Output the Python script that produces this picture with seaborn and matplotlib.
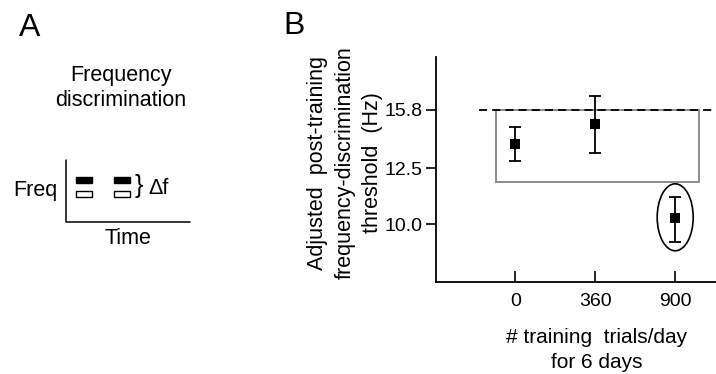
import numpy as np
import pandas as pd
import seaborn as sns
import matplotlib
matplotlib.use("Agg")
import matplotlib.pyplot as plt
import matplotlib.patches as mpatches
import matplotlib.transforms as mtransforms

# ---- data (panel B) ----
categories = ["0", "360", "900"]
means = [13.8, 14.9, 10.24]
err_low = [12.88, 13.29, 9.33]
err_high = [14.75, 16.67, 11.17]
ytick_values = [10.0, 12.5, 15.8]
ytick_labels = ["10.0", "12.5", "15.8"]
baseline_threshold = 15.8
box_low = 11.86

sns.set_theme(style="ticks")
plt.rcParams["font.family"] = ["Liberation Sans", "DejaVu Sans"]
plt.rcParams["text.color"] = "black"
plt.rcParams["axes.labelcolor"] = "black"

W, H, DPI = 716, 374, 100
fig = plt.figure(figsize=(W / DPI, H / DPI), dpi=DPI)

# ---- Panel A: schematic (overlay in pixel coords) ----
ov = fig.add_axes([0, 0, 1, 1], zorder=0)
ov.set_xlim(0, W)
ov.set_ylim(H, 0)
ov.axis("off")
ov.text(30, 28, "A", fontsize=23, ha="center", va="center")
ov.text(294, 26, "B", fontsize=23, ha="center", va="center")
ov.text(121, 88, "Frequency\ndiscrimination", fontsize=15.5, ha="center",
        va="center", linespacing=1.3)
ov.plot([66, 66, 190], [160, 222, 222], color="black", lw=1.1)
ov.text(35, 190, "Freq", fontsize=15.5, ha="center", va="center")
ov.text(128, 238, "Time", fontsize=15.5, ha="center", va="center")
for x0 in (76, 114):
    ov.add_patch(mpatches.Rectangle((x0, 177), 16, 6, facecolor="black",
                                    edgecolor="black", lw=1))
    ov.add_patch(mpatches.Rectangle((x0, 191), 16, 6, facecolor="white",
                                    edgecolor="black", lw=1))
ov.text(139, 186, "}", fontsize=18, ha="center", va="center")
ov.text(159, 188, "\u0394f", fontsize=15.5, ha="center", va="center")

# ---- Panel B ----
ax = fig.add_axes([436 / W, 1 - 282 / H, 1 - 436 / W, (282 - 57) / H], zorder=2)
ax.patch.set_alpha(0)
df = pd.DataFrame({"trials": categories, "threshold": means,
                   "low": err_low, "high": err_high})
xpos = np.arange(len(categories))
ax.set_yscale("log")

# gray box and dashed baseline
ax.add_patch(mpatches.Rectangle((-0.24, box_low), 2.54, baseline_threshold - box_low,
                                fill=False, edgecolor="#8c8c8c", lw=1.4, zorder=1))
ax.plot([-0.45, 2.51], [baseline_threshold, baseline_threshold], color="black",
        lw=1.3, dashes=(4.5, 2.8), clip_on=False, zorder=3)

yerr = np.vstack([df["threshold"] - df["low"], df["high"] - df["threshold"]])
ax.errorbar(xpos, df["threshold"], yerr=yerr, fmt="none", ecolor="black",
            elinewidth=1.3, capsize=4, capthick=1.3, zorder=4)
sns.scatterplot(x=xpos, y=df["threshold"], marker="s", color="black", s=60,
                edgecolor="black", linewidth=0, ax=ax, zorder=5, legend=False)

# ellipse around the 900 point (in pixel size)
trans = fig.dpi_scale_trans + mtransforms.ScaledTranslation(2, 10.24, ax.transData)
ax.add_patch(mpatches.Ellipse((0, 0.01), 0.36, 0.67, fill=False, edgecolor="black",
                              lw=1.2, transform=trans, clip_on=False, zorder=6))

ax.set_xlim(-0.99, 2.51)
ax.set_ylim(7.94, 19.5)
ax.set_xticks(xpos)
ax.set_xticklabels(categories)
ax.set_yticks(ytick_values)
ax.set_yticklabels(ytick_labels)
ax.yaxis.set_minor_locator(matplotlib.ticker.NullLocator())
ax.tick_params(axis="y", direction="out", length=7, width=1.2, labelsize=14,
               pad=3, colors="black")
ax.tick_params(axis="x", direction="in", length=8, width=1.2, labelsize=14,
               pad=8, colors="black")
for s in ("top", "right"):
    ax.spines[s].set_visible(False)
for s in ("left", "bottom"):
    ax.spines[s].set_color("black")
    ax.spines[s].set_linewidth(1.3)

ax.set_ylabel("Adjusted  post-training\nfrequency-discrimination\nthreshold  (Hz)",
              fontsize=15.5, linespacing=1.38, ha="center", va="center")
ax.yaxis.set_label_coords((345 - 436) / 280, 0.53)
ax.set_xlabel("# training  trials/day\nfor 6 days", fontsize=15, linespacing=1.35,
              ha="center", va="center")
ax.xaxis.set_label_coords((597 - 436) / 280, -(350 - 282) / 225)

fig.savefig("out.png", dpi=DPI)
